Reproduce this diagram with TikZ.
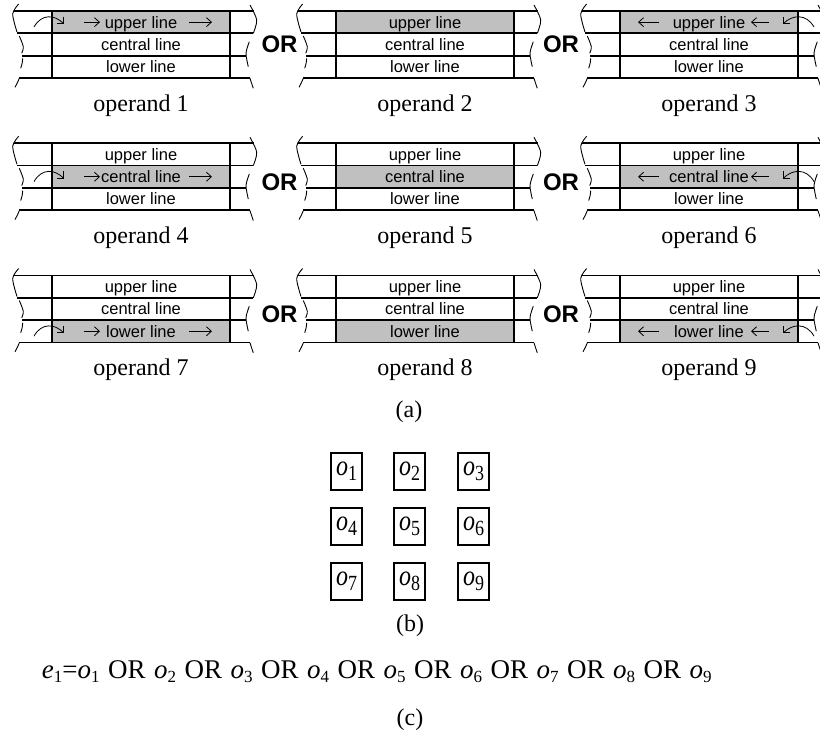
\documentclass[tikz,border=0pt]{standalone}
\usepackage{fontspec}
\setmainfont{Liberation Serif}
\setsansfont{Liberation Sans}
\usetikzlibrary{arrows.meta}
\definecolor{lanegray}{RGB}{192,192,192}
\tikzset{
  roadline/.style={line width=1.7pt},
  breakline/.style={line width=0.9pt},
  flowarrow/.style={line width=0.8pt,-{Straight Barb[length=5pt,width=9pt]}},
  turnarrow/.style={line width=0.8pt,-{Straight Barb[length=5pt,width=10pt]}},
  lanetext/.style={font=\sffamily\fontsize{16.5}{18}\selectfont, inner sep=0pt, anchor=base},
  ortext/.style={font=\sffamily\bfseries\fontsize{24}{26}\selectfont, inner sep=0pt},
  caption/.style={font=\fontsize{24}{26}\selectfont, inner sep=0pt, anchor=base},
  obox/.style={draw, line width=1.5pt, minimum width=31pt, minimum height=37pt, inner sep=0pt,
    font=\fontsize{24}{26}\selectfont},
}
% italic letter with a lowered index
\newcommand\osym[2]{\textit{#1}\raisebox{-4pt}{\fontsize{17}{17}\selectfont #2}}
\newcommand\boxsym[1]{\scalebox{1}[1.2]{\textit{o}\raisebox{-4pt}{\fontsize{18}{18}\selectfont #1}}}
\newcommand\orsep{\hspace{8.5pt}OR\hspace{8.5pt}}
% one road piece: name, left edge of the block, top line, shaded lane (0..2), turn (0 none, 1 from left, 2 from right)
\newcommand\drawroad[5]{%
\begin{scope}[shift={(#2,#3)}]
  \fill[lanegray] (0,{#4*22.3}) rectangle (178,{(#4+1)*22.3});
  \draw[roadline] (-38,0) -- (202,0);
  \draw[roadline] (-35,22.3) -- (201.3,22.3);
  \draw[roadline] (-29.8,44.7) -- (194,44.7);
  \draw[roadline] (-32.7,67) -- (198,67);
  \draw[roadline] (0,0) -- (0,67) (178,0) -- (178,67);
  \node[lanetext] (#1-upper) at (89,17) {upper line};
  \node[lanetext] (#1-central) at (89,39.3) {central line};
  \node[lanetext] (#1-lower) at (89,61.6) {lower line};
  % broken ends
  \draw[breakline] plot[smooth] coordinates {(-33.3,-7) (-39.3,3) (-35,21)};
  \draw[breakline] plot[smooth] coordinates {(-32.7,25) (-28.7,35.7) (-30.3,42.3)};
  \draw[breakline] plot[smooth] coordinates {(-29.3,47.3) (-29.8,52) (-31.3,57.3)};
  \draw[breakline] plot[smooth] coordinates {(-32.7,67.3) (-34.5,71.5) (-37,76.3)};
  \draw[breakline] plot[smooth] coordinates {(198,-6) (204.7,9) (201.3,22.3)};
  \draw[breakline] plot[smooth] coordinates {(197.3,30.7) (194,42.3) (196.3,55.7)};
  \draw[breakline] plot[smooth] coordinates {(198,67.3) (199.5,72) (201.3,77.3)};
  \pgfmathsetmacro\lanetop{#4*22.3}
  \pgfmathsetmacro\lanemid{#4*22.3+11.15}
  \ifcase#5
  \or
    \draw[flowarrow] (32,\lanemid) -- (48,\lanemid);
    \draw[flowarrow] (137,\lanemid) -- (160,\lanemid);
    \draw[turnarrow] (-18,{\lanetop+16}) .. controls (-10,{\lanetop+2}) and (3,{\lanetop+4}) .. (12,{\lanetop+13});
  \or
    \draw[flowarrow] (39,\lanemid) -- (18,\lanemid);
    \draw[flowarrow] (149,\lanemid) -- (131,\lanemid);
    \draw[turnarrow] (194,{\lanetop+16}) .. controls (186,{\lanetop+2}) and (172,{\lanetop+4}) .. (163,{\lanetop+13});
  \fi
\end{scope}}

\begin{document}
\begin{tikzpicture}[x=1pt,y=-1pt]
  \useasboundingbox (0,0) rectangle (820,737);

  % (a) the nine operands
  \drawroad{r1}{52}{11}{0}{1}
  \drawroad{r2}{336}{11}{0}{0}
  \drawroad{r3}{620}{11}{0}{2}
  \drawroad{r4}{52}{143.3}{1}{1}
  \drawroad{r5}{336}{143.3}{1}{0}
  \drawroad{r6}{620}{143.3}{1}{2}
  \drawroad{r7}{52}{275.5}{2}{1}
  \drawroad{r8}{336}{275.5}{2}{0}
  \drawroad{r9}{620}{275.5}{2}{2}

  \node[ortext] (or12) at (279.5,44.5) {OR};
  \node[ortext] (or23) at (561,44.5) {OR};
  \node[ortext] (or45) at (279.5,182.5) {OR};
  \node[ortext] (or56) at (561,182.5) {OR};
  \node[ortext] (or78) at (279.5,314) {OR};
  \node[ortext] (or89) at (561,314) {OR};

  \node[caption] (cap1) at (141,111) {operand 1};
  \node[caption] (cap2) at (425,111) {operand 2};
  \node[caption] (cap3) at (709,111) {operand 3};
  \node[caption] (cap4) at (141,243) {operand 4};
  \node[caption] (cap5) at (425,243) {operand 5};
  \node[caption] (cap6) at (709,243) {operand 6};
  \node[caption] (cap7) at (141,375.5) {operand 7};
  \node[caption] (cap8) at (425,375.5) {operand 8};
  \node[caption] (cap9) at (709,375.5) {operand 9};
  \node[caption] (parta) at (409,417.5) {(a)};

  % (b) the grid of operands
  \node[obox] (o1) at (346.5,471.5) {\boxsym{1}};
  \node[obox] (o2) at (409.5,471.5) {\boxsym{2}};
  \node[obox] (o3) at (473.5,471.5) {\boxsym{3}};
  \node[obox] (o4) at (346.5,526.5) {\boxsym{4}};
  \node[obox] (o5) at (409.5,526.5) {\boxsym{5}};
  \node[obox] (o6) at (473.5,526.5) {\boxsym{6}};
  \node[obox] (o7) at (346.5,581.5) {\boxsym{7}};
  \node[obox] (o8) at (409.5,581.5) {\boxsym{8}};
  \node[obox] (o9) at (473.5,581.5) {\boxsym{9}};
  \node[caption] (partb) at (410,631) {(b)};

  % (c) the expression
  \node[caption, anchor=base west, font=\fontsize{27}{30}\selectfont] (expr) at (41.7,678.3)
    {\osym{e}{1}=\osym{o}{1}\orsep\osym{o}{2}\orsep\osym{o}{3}\orsep\osym{o}{4}\orsep\osym{o}{5}\orsep\osym{o}{6}\orsep\osym{o}{7}\orsep\osym{o}{8}\orsep\osym{o}{9}};
  \node[caption] (partc) at (410,725) {(c)};
\end{tikzpicture}
\end{document}
